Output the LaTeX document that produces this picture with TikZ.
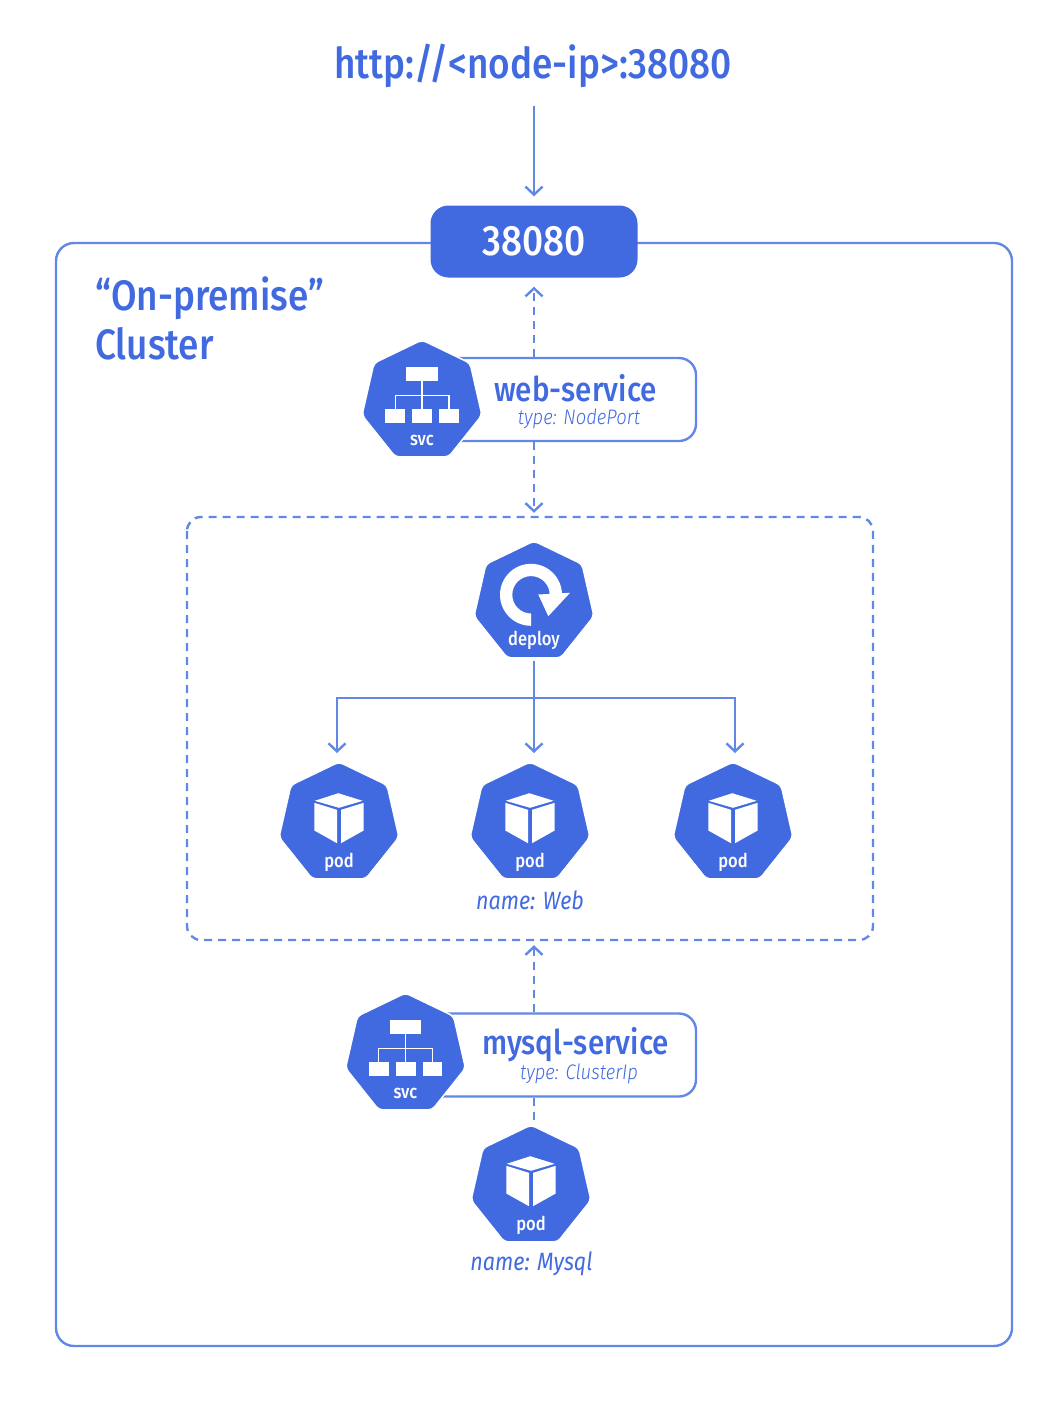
\documentclass[tikz,border=0pt]{standalone}
\usepackage{fontspec}
\setmainfont[FakeStretch=0.86]{Fira Sans}
\newfontfamily\lightfont[FakeStretch=0.88,ItalicFont={Fira Sans Light Italic}]{Fira Sans Light}
\newfontfamily\mediumfont[FakeStretch=0.87]{Fira Sans Medium}
\usepackage{tikz}
\usetikzlibrary{arrows.meta}
\usetikzlibrary{shapes.geometric}
\definecolor{royal}{HTML}{416AE0}
\definecolor{wire}{HTML}{6288E6}
\tikzset{
        hexa/.style={regular polygon,regular polygon sides=7,minimum size=123pt,inner sep=0pt,fill=royal,draw=white,line width=1.5pt,rounded corners=4pt},
        hexlabel/.style={text=white,font=\fontsize{19}{19}\selectfont\mediumfont,inner sep=0pt},
        wireline/.style={draw=wire,line width=2.4pt},
        wirearrow/.style={wireline,-{Straight Barb[length=8pt,width=17pt]}},
        dashline/.style={wireline,dash pattern=on 8pt off 6pt},
        dasharrow/.style={wirearrow,dash pattern=on 8pt off 6pt},
        svcbox/.style={wireline,fill=white,rounded corners=17pt,minimum height=83pt,inner sep=0pt},
        boxtitle/.style={text=royal,font=\fontsize{34}{34}\selectfont\mediumfont,inner sep=0pt},
        boxtype/.style={text=royal,font=\fontsize{21}{21}\selectfont\lightfont\itshape,inner sep=0pt},
        podname/.style={text=royal,font=\fontsize{25}{25}\selectfont\itshape,inner sep=0pt},
        headtext/.style={text=royal,font=\fontsize{42.5}{42.5}\selectfont\mediumfont,inner sep=0pt},
        svcicon/.pic={
                \fill[white] (-15.7,-35) rectangle (15.7,-20.3);
                \foreach \cx in {-26.8,0.2,26.9}
                        \fill[white] (\cx-9.9,7.3) rectangle (\cx+9.9,21.3);
                \draw[white,line width=1.3pt] (0,-20.3)--(0,7.3);
                \draw[white,line width=1.3pt] (-26.8,7.3)--(-26.8,-6.3)--(26.9,-6.3)--(26.9,7.3);
                \node[hexlabel] (-label) at (0,39) {svc};
        },
        podicon/.pic={
                \fill[white] (-0.7,-30.3)--(23.7,-22.7)--(0,-15.7)--(-24.3,-22.7)--cycle;
                \fill[white] (-24.7,-20.7)--(-2,-13.7)--(-2,19.7)--(-24.7,7)--cycle;
                \fill[white] (2,-13.7)--(24.7,-20.7)--(24.7,7)--(2,19.7)--cycle;
                \node[hexlabel] (-label) at (0,38.5) {pod};
        },
        deployicon/.pic={
                \fill[white] (-3,23.3) arc[start angle=270,end angle=0,radius=31pt]
                        --(15.7,-7.7) arc[start angle=0,end angle=270,radius=18.7pt]--cycle;
                \fill[white] (4.3,-8)--(36,-9.7)--(14.3,13.7)--cycle;
                \node[hexlabel] (-label) at (0,37.5) {deploy};
        },
}
\begin{document}
\begin{tikzpicture}[x=1pt,y=-1pt]
        \useasboundingbox (0,0) rectangle (1062,1406);
        \coordinate (clustertl) at (56,243);
        \coordinate (clusterbr) at (1012,1346);
        \draw[wireline,rounded corners=18pt] (clustertl) rectangle (clusterbr);
        \node[fill=royal,rounded corners=18pt,minimum width=207pt,minimum height=72pt,inner sep=0pt,text=white,font=\fontsize{42.5}{42.5}\selectfont\mediumfont] (port) at (534,241.5) {\raisebox{-1pt}{38080}};
        \node[headtext] (title) at (533,65.5) {http://<node-ip>:38080};
        \node[headtext,anchor=west] (onprem) at (95,298) {“On-premise”};
        \node[headtext,anchor=west] (clustername) at (95,344) {Cluster};
        \draw[wireline,dash pattern=on 8pt off 6pt,rounded corners=14pt] (187,517) rectangle (873,940);
        \node[minimum width=686pt,minimum height=423pt,inner sep=0pt] (zone) at (530,728.5) {};

        \draw[wirearrow,shorten <=18pt,shorten >=9pt] (port.north |- title.south)--(port.north);
        \node[svcbox,minimum width=256pt] (webbox) at (568,399.5) {};
        \node[svcbox,minimum width=271pt] (mysqlbox) at (560.5,1055) {};
        \draw[dasharrow,shorten >=9pt] (port.south |- webbox.north)--(port.south);
        \draw[dasharrow,shorten >=4pt] (port.south |- webbox.south)--(port.south |- zone.north);
        \draw[dasharrow,shorten >=5pt] (port.south |- mysqlbox.north)--(port.south |- zone.south);

        \node[hexa] (websvc) at (422,401.5) {};
        \pic (webicon) at (websvc.center) {svcicon};
        \node[boxtitle] (webname) at (575.5,388) {web-service};
        \node[boxtype] (webtype) at (579,419) {type: NodePort};

        \node[hexa] (deploy) at (534,602.5) {};
        \pic (deployglyph) at (deploy.center) {deployicon};
        \coordinate (branch) at (534,698);
        \coordinate (tipleft) at (337,753);
        \coordinate (tipmid) at (534,753);
        \coordinate (tipright) at (735,753);
        \draw[wirearrow,shorten <=2pt] (deploy.south)--(tipmid);
        \draw[wirearrow] (branch)-|(tipleft);
        \draw[wirearrow] (branch)-|(tipright);

        \node[hexa] (podleft) at (339,823.5) {};
        \node[hexa] (podmid) at (530,823.5) {};
        \node[hexa] (podright) at (733,823.5) {};
        \pic (podlefticon) at (podleft.center) {podicon};
        \pic (podmidicon) at (podmid.center) {podicon};
        \pic (podrighticon) at (podright.center) {podicon};
        \node[podname] (webpodname) at (530,900) {name: Web};

        \node[hexa] (mysqlpod) at (531,1186.5) {};
        \draw[dashline] (port.south |- mysqlbox.south)--(port.south |- mysqlpod.north);
        \node[hexa] (mysqlsvc) at (405.5,1054.5) {};
        \pic (mysqlicon) at (mysqlsvc.center) {svcicon};
        \node[boxtitle] (mysqlname) at (575.5,1044.5) {mysql-service};
        \node[boxtype] (mysqltype) at (579,1074) {type: ClusterIp};
        \pic (mysqlpodicon) at (mysqlpod.center) {podicon};
        \node[podname] (mysqlpodname) at (531.5,1264) {name: Mysql};
\end{tikzpicture}
\end{document}
